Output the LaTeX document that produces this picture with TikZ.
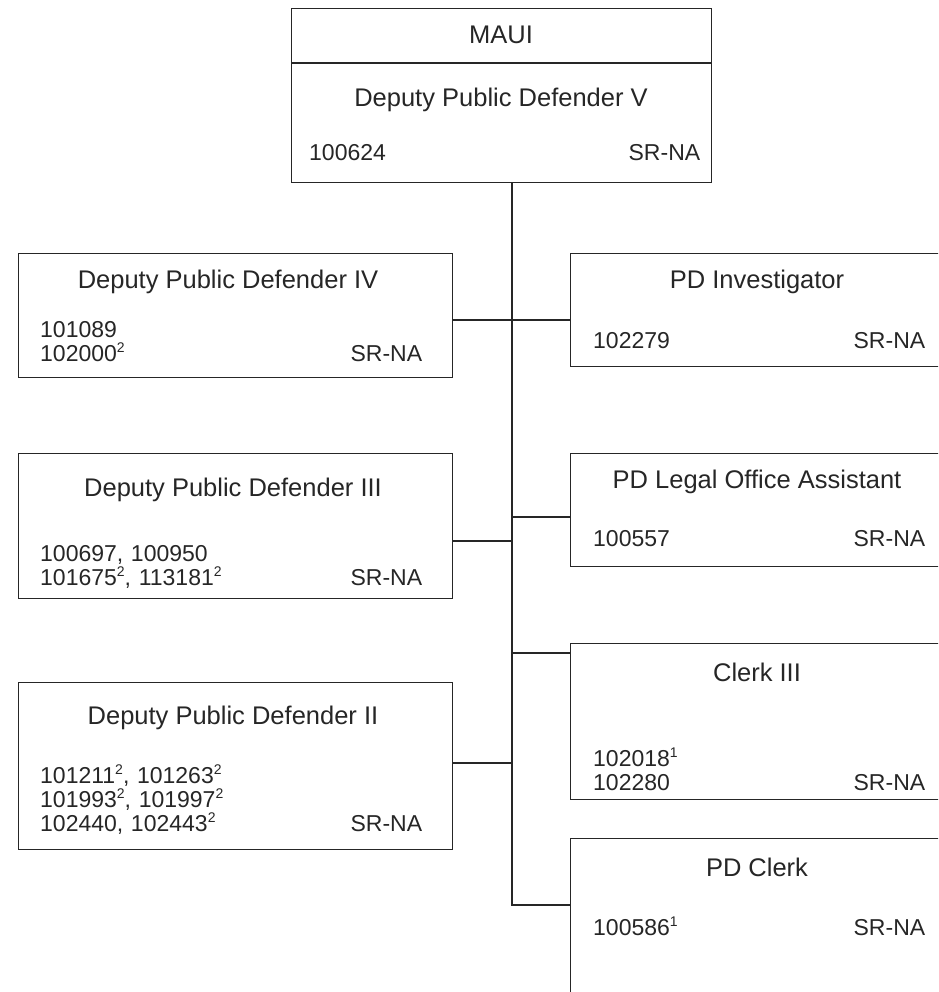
\documentclass[tikz,border=0pt]{standalone}
\usepackage{fontspec}
\setmainfont{Liberation Sans}
\newcommand\sups[1]{\raisebox{0.36em}{\fontsize{14}{14}\selectfont #1}}
\newcommand\pushright{\hskip 0pt plus 1filll\relax}
\begin{document}
\begin{tikzpicture}[x=1pt,y=-1pt,
  box/.style={draw=black!85, line width=1.2pt, rectangle, inner sep=0pt, anchor=north west},
  link/.style={draw=black!85, line width=1.2pt},
  txt/.style={font=\fontsize{23}{24}\selectfont, inner sep=0pt, text=black!85},
  ttl/.style={txt, font=\fontsize{25.5}{29}\selectfont, anchor=center},
  idl/.style={txt, anchor=base west, align=left},
  lcol/.style={idl, text width=382pt},
  rcol/.style={idl, text width=332pt}]
\path[use as bounding box, clip] (0,0) rectangle (938,992);
% boxes
\node[box, minimum width=420pt, minimum height=174pt] (top) at (291,8) {};
\node[box, minimum width=434pt, minimum height=124pt] (dpd4) at (18,253) {};
\node[box, minimum width=434pt, minimum height=145pt] (dpd3) at (18,453) {};
\node[box, minimum width=434pt, minimum height=167pt] (dpd2) at (18,682) {};
\node[box, minimum width=400pt, minimum height=113pt] (inv) at (570,253) {};
\node[box, minimum width=400pt, minimum height=113pt] (loa) at (570,453) {};
\node[box, minimum width=400pt, minimum height=156pt] (clk3) at (570,643) {};
\node[box, minimum width=400pt, minimum height=200pt] (pdc) at (570,838) {};
\coordinate (div) at (0,63);
\draw[link] (top.west |- div) -- (top.east |- div);
% top box
\node[ttl] (t0) at (501,35) {MAUI};
\node[ttl] (t1) at (501,100) {Deputy Public Defender V};
\node[idl, text width=391pt] (t2) at (309,161) {100624\pushright SR-NA};
% DPD IV
\node[ttl] (h4) at (228,282) {Deputy Public Defender IV};
\node[lcol] (i4) at (40,337) {101089\\102000\sups{2}\pushright SR-NA};
% DPD III
\node[ttl] (h3) at (233,490) {Deputy Public Defender III};
\node[lcol] (i3) at (40,561) {100697, 100950\\101675\sups{2}, 113181\sups{2}\pushright SR-NA};
% DPD II
\node[ttl] (h2) at (233,718) {Deputy Public Defender II};
\node[lcol] (i2) at (40,783) {101211\sups{2}, 101263\sups{2}\\101993\sups{2}, 101997\sups{2}\\102440, 102443\sups{2}\pushright SR-NA};
% PD Investigator
\node[ttl] (hi) at (757,282) {PD Investigator};
\node[rcol] (ii) at (593,348) {102279\pushright SR-NA};
% PD Legal Office Assistant
\node[ttl] (hl) at (757,482) {PD Legal Office Assistant};
\node[rcol] (il) at (593,546) {100557\pushright SR-NA};
% Clerk III
\node[ttl] (hc) at (757,672) {Clerk III};
\node[rcol] (ic) at (593,766) {102018\sups{1}\\102280\pushright SR-NA};
% PD Clerk
\node[ttl] (hp) at (757,867) {PD Clerk};
\node[rcol] (ip) at (593,935) {100586\sups{1}\pushright SR-NA};
% connectors
\coordinate (trunkx) at (512,0);
\coordinate (j1) at (512,320);
\coordinate (j2) at (512,517);
\coordinate (j3) at (512,541);
\coordinate (j4) at (512,653);
\coordinate (j5) at (512,763);
\coordinate (j6) at (512,905);
\draw[link] (top.south -| trunkx) -- (j6) -- (pdc.west |- j6);
\draw[link] (dpd4.east |- j1) -- (inv.west |- j1);
\draw[link] (j2) -- (loa.west |- j2);
\draw[link] (dpd3.east |- j3) -- (j3);
\draw[link] (j4) -- (clk3.west |- j4);
\draw[link] (dpd2.east |- j5) -- (j5);
\end{tikzpicture}
\end{document}
